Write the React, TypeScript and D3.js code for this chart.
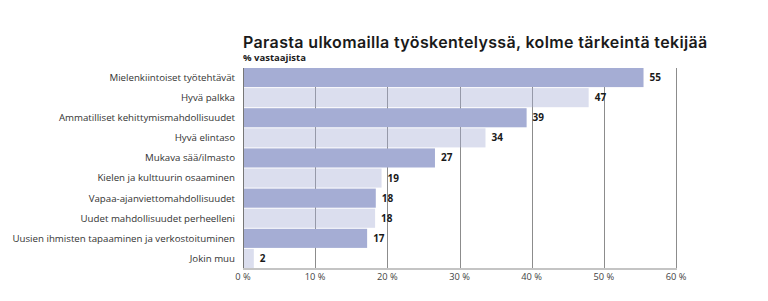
import * as d3 from 'd3'
import { useEffect, useRef } from 'react'

// categories top to bottom
const categories = [
  'Mielenkiintoiset työtehtävät',
  'Hyvä palkka',
  'Ammatilliset kehittymismahdollisuudet',
  'Hyvä elintaso',
  'Mukava sää/ilmasto',
  'Kielen ja kulttuurin osaaminen',
  'Vapaa-ajanviettomahdollisuudet',
  'Uudet mahdollisuudet perheelleni',
  'Uusien ihmisten tapaaminen ja verkostoituminen',
  'Jokin muu',
]
// bar lengths and the printed labels
const values = [55.5, 47.9, 39.3, 33.6, 26.6, 19.2, 18.4, 18.3, 17.2, 1.5]
const valueLabels = ['55', '47', '39', '34', '27', '19', '18', '18', '17', '2']
const xTicks = [0, 10, 20, 30, 40, 50, 60]

const title = 'Parasta ulkomailla työskentelyssä, kolme tärkeintä tekijää'
const subtitle = '% vastaajista'

export default function App() {
  const svgRef = useRef<SVGSVGElement>(null)
  const width = 768
  const height = 301

  useEffect(() => {
    const margin = { top: 68, right: 92, bottom: 33, left: 243 }
    const svg = d3.select(svgRef.current)
    svg.selectAll('*').remove()

    const x = d3.scaleLinear().domain([0, 60]).range([margin.left, width - margin.right])
    const y = d3.scaleBand<string>()
      .domain(categories)
      .range([margin.top, height - margin.bottom])
      .paddingInner(0.05)
      .paddingOuter(0)

    const font = '"Open Sans", "Noto Sans", sans-serif'

    // title
    svg.append('text')
      .attr('x', margin.left)
      .attr('y', 48)
      .style('font-family', 'Inter, sans-serif')
      .style('font-weight', 600)
      .style('font-size', '16px')
      .style('letter-spacing', '0.35px')
      .attr('fill', '#1a1a1a')
      .text(title)
    svg.append('text')
      .attr('x', margin.left)
      .attr('y', 61)
      .style('font-family', font)
      .style('font-weight', 700)
      .style('font-size', '9.5px')
      .attr('fill', '#1a1a1a')
      .text(subtitle)

    // gridlines
    svg.append('g')
      .selectAll('line')
      .data(xTicks.slice(1))
      .join('line')
      .attr('x1', (d) => Math.round(x(d)) + 0.5)
      .attr('x2', (d) => Math.round(x(d)) + 0.5)
      .attr('y1', margin.top)
      .attr('y2', height - margin.bottom)
      .attr('stroke', '#8c8c8c')
      .attr('stroke-width', 1)

    // bars, alternating dark / light
    svg.append('g')
      .selectAll('rect')
      .data(values)
      .join('rect')
      .attr('x', x(0))
      .attr('y', (_, i) => y(categories[i]) ?? 0)
      .attr('width', (d) => x(d) - x(0))
      .attr('height', y.bandwidth())
      .attr('fill', '#a5add4')
      .attr('fill-opacity', (_, i) => (i % 2 === 0 ? 1 : 0.4))

    // value labels
    svg.append('g')
      .selectAll('text')
      .data(values)
      .join('text')
      .attr('x', (d) => x(d) + 6)
      .attr('y', (_, i) => (y(categories[i]) ?? 0) + y.bandwidth() / 2)
      .attr('dy', '0.35em')
      .style('font-family', font)
      .style('font-weight', 700)
      .style('font-size', '10px')
      .attr('fill', '#1a1a1a')
      .text((_, i) => valueLabels[i])

    // category labels
    svg.append('g')
      .selectAll('text')
      .data(categories)
      .join('text')
      .attr('x', margin.left - 8)
      .attr('y', (d) => (y(d) ?? 0) + y.bandwidth() / 2)
      .attr('dy', '0.35em')
      .attr('text-anchor', 'end')
      .style('font-family', font)
      .style('font-size', '9.7px')
      .attr('fill', '#333')
      .text((d) => d)

    // y axis line
    svg.append('line')
      .attr('x1', margin.left + 0.5)
      .attr('x2', margin.left + 0.5)
      .attr('y1', margin.top)
      .attr('y2', height - margin.bottom)
      .attr('stroke', '#777')

    // x axis
    svg.append('line')
      .attr('x1', margin.left)
      .attr('x2', x(60) + 1)
      .attr('y1', height - margin.bottom + 1)
      .attr('y2', height - margin.bottom + 1)
      .attr('stroke', '#c4c4c4')
      .attr('stroke-width', 2)

    svg.append('g')
      .selectAll('text')
      .data(xTicks)
      .join('text')
      .attr('x', (d) => x(d))
      .attr('y', height - margin.bottom + 12)
      .attr('text-anchor', 'middle')
      .style('font-family', font)
      .style('font-size', '9.3px')
      .attr('fill', '#444')
      .text((d) => d + ' %')
  }, [])

  return (
    <svg
      ref={svgRef}
      width={width}
      height={height}
      style={{ position: 'absolute', left: 0, top: 0, background: '#fff' }}
    />
  )
}
